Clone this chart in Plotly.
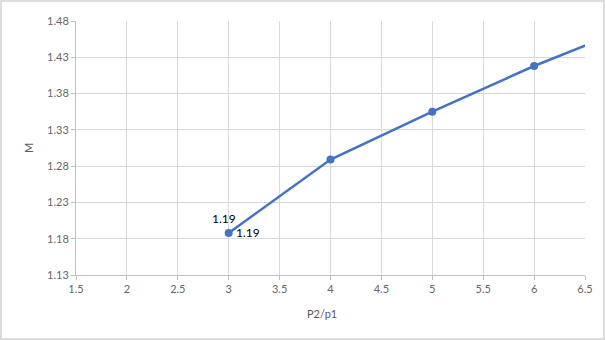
import plotly.graph_objects as go

# Data
pressure_ratio = [3, 4, 5, 6, 7]
mach = [1.188, 1.289, 1.355, 1.418, 1.474]
label_point_x = 3
label_point_y = 1.188
label_text = "1.19"
x_ticks = [1.5, 2, 2.5, 3, 3.5, 4, 4.5, 5, 5.5, 6, 6.5]
y_ticks = [1.13, 1.18, 1.23, 1.28, 1.33, 1.38, 1.43, 1.48]

W, H = 605, 340
L, R, T, B = 76, 20, 21, 65

fig = go.Figure()
fig.add_trace(go.Scatter(
    x=pressure_ratio, y=mach, mode="lines+markers",
    line=dict(color="#4472C4", width=2.5),
    marker=dict(color="#4472C4", size=8),
    cliponaxis=True, showlegend=False, hoverinfo="skip",
))

pw = W - L - R
ph = H - T - B

fig.update_layout(
    width=W, height=H,
    margin=dict(l=L, r=R, t=T, b=B),
    paper_bgcolor="white", plot_bgcolor="white",
    font=dict(family="Lato", size=11, color="#666666"),
    xaxis=dict(
        range=[1.5, 6.5], tickvals=x_ticks, ticktext=[f"{v:g}" for v in x_ticks],
        showgrid=True, gridcolor="#D9D9D9", gridwidth=1,
        showline=True, linecolor="#BFBFBF", linewidth=1,
        ticks="outside", ticklen=4, tickcolor="#BFBFBF",
        zeroline=False, tickfont=dict(size=11, color="#666666"),
    ),
    yaxis=dict(
        range=[1.13, 1.48], tickvals=y_ticks, ticktext=[f"{v:.2f}" for v in y_ticks],
        showgrid=True, gridcolor="#D9D9D9", gridwidth=1,
        showline=True, linecolor="#BFBFBF", linewidth=1,
        ticks="outside", ticklen=4, tickcolor="#BFBFBF",
        zeroline=False, tickfont=dict(size=11, color="#666666"),
    ),
    annotations=[
        dict(text=label_text, x=label_point_x, y=label_point_y, xref="x", yref="y",
             showarrow=False, xanchor="left", yanchor="middle", xshift=5, yshift=0,
             font=dict(size=12, color="#000000")),
        dict(text=label_text, x=label_point_x, y=label_point_y, xref="x", yref="y",
             showarrow=False, xanchor="right", yanchor="middle", xshift=9, yshift=14,
             font=dict(size=12, color="#000000")),
        dict(text="M", xref="paper", yref="paper",
             x=(28 - L) / pw, y=1 - (148 - T) / ph,
             showarrow=False, textangle=-90, font=dict(size=11, color="#595959"),
             xanchor="center", yanchor="middle"),
        dict(text="P2/p1", xref="paper", yref="paper",
             x=(322 - L) / pw, y=1 - (313 - T) / ph,
             showarrow=False, font=dict(size=11, color="#595959"),
             xanchor="center", yanchor="middle"),
    ],
    shapes=[
        dict(type="rect", xref="paper", yref="paper",
             x0=(1 - L) / pw, x1=(W - 1 - L) / pw,
             y0=1 - (H - 1 - T) / ph, y1=1 - (1 - T) / ph,
             line=dict(color="#DDDDDD", width=2), layer="below"),
    ],
)

fig.write_html("out.html")
